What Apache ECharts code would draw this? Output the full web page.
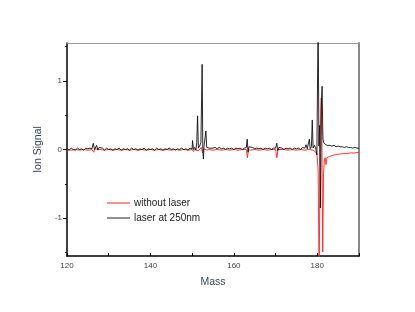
<!DOCTYPE html>
<html>
<head>
<meta charset="utf-8">
<script src="https://cdn.jsdelivr.net/npm/echarts@6/dist/echarts.min.js"></script>
<style>html,body{margin:0;padding:0;background:#fff}#c{width:415px;height:312px}</style>
</head>
<body>
<div id="c"></div>
<script>
const seriesNames = ['without laser', 'laser at 250nm'];
const xTickLabels = [120, 140, 160, 180];
const xMinorTicks = [130, 150, 170, 190];
const yTickLabels = [-1, 0, 1];
const yMinorTicks = [-1.5, -0.5, 0.5, 1.5];

// [mass, ion signal]
const laserData = [
 [120,0.01],[120.5,-0.01],[121,0.02],[121.5,0.00],[122,-0.01],[122.5,0.02],[123,0.00],[123.5,0.01],[124,-0.01],[124.5,0.02],
 [125,0.01],[125.5,0.02],[126,0.01],[126.3,0.09],[126.6,0.00],[126.9,0.02],[127.1,0.06],[127.4,-0.01],[127.7,0.03],[128,0.01],
 [128.5,0.02],[129,-0.01],[129.5,0.02],[130,0.00],[130.5,0.01],[131,-0.01],[131.5,0.01],[132,0.00],[132.5,0.02],[133,-0.01],
 [133.5,0.01],[134,0.00],[134.5,0.01],[135,-0.01],[135.5,0.02],[136,0.00],[136.5,0.01],[137,-0.01],[137.5,0.01],[138,0.00],
 [138.5,0.02],[139,-0.01],[139.5,0.01],[140,0.00],[140.5,0.01],[141,-0.01],[141.5,0.02],[142,0.00],[142.5,0.01],[143,-0.01],
 [143.5,0.01],[144,0.00],[144.5,0.02],[145,0.00],[145.5,0.01],[146,-0.01],[146.5,0.01],[147,0.00],[147.5,0.02],[148,0.00],
 [148.5,0.01],[149,-0.01],[149.5,0.02],[150,0.01],[150.1,0.13],[150.3,0.00],[150.6,0.03],[150.9,-0.01],[151.1,0.10],[151.3,0.49],
 [151.5,0.02],[151.8,0.05],[152.1,0.10],[152.4,1.24],[152.55,0.02],[152.7,-0.14],[152.85,0.05],[153.1,0.06],[153.3,0.27],[153.5,0.03],
 [153.8,0.05],[154.1,0.02],[154.5,0.04],[155,0.02],[155.5,0.03],[156,0.01],[156.5,0.03],[157,0.01],[157.5,0.02],[158,0.00],
 [158.5,0.02],[159,0.01],[159.5,0.02],[160,0.00],[160.5,0.02],[161,0.01],[161.5,0.02],[162,0.00],[162.5,0.02],[163,0.03],
 [163.2,0.15],[163.4,-0.04],[163.6,0.04],[164,0.02],[164.5,0.03],[165,0.01],[165.5,0.02],[166,0.01],[166.5,0.02],[167,0.00],
 [167.5,0.02],[168,0.01],[168.5,0.02],[169,0.00],[169.5,0.02],[170,0.02],[170.3,0.09],[170.5,-0.02],[170.8,0.03],[171,0.01],
 [171.5,0.02],[172,0.00],[172.5,0.02],[173,0.01],[173.5,0.02],[174,0.00],[174.5,0.02],[175,0.01],[175.5,0.02],[176,0.00],
 [176.5,0.03],[177,0.02],[177.3,0.07],[177.6,0.01],[178.1,0.15],[178.3,0.01],[178.6,0.04],[178.8,0.43],[179.0,0.02],[179.3,0.06],
 [179.6,0.03],[179.9,-0.08],[180.2,1.9],[180.4,0.05],[180.55,0.35],[180.75,-0.85],[180.95,0.6],[181.15,0.92],[181.35,0.15],[181.55,0.1],
 [181.75,0.12],[182,0.07],[182.5,0.06],[183,0.06],[183.5,0.05],[184,0.06],[184.5,0.04],[185,0.05],[185.5,0.04],[186,0.04],
 [186.5,0.03],[187,0.04],[187.5,0.03],[188,0.03],[188.5,0.02],[189,0.03],[189.5,0.02],[190,0.02]
];

const noLaserData = [
 [120,0.00],[121,-0.01],[122,0.00],[123,-0.01],[124,0.00],[125,-0.01],[126,0.00],[126.4,-0.04],[126.7,0.01],[127,-0.01],
 [128,0.00],[129,-0.01],[130,0.00],[131,-0.01],[132,0.00],[133,-0.01],[134,0.00],[135,-0.01],[136,0.00],[137,-0.01],
 [138,0.00],[139,-0.01],[140,0.00],[141,-0.01],[142,0.00],[143,-0.01],[144,0.00],[145,-0.01],[146,0.00],[147,-0.01],
 [148,0.00],[149,-0.01],[150,0.00],[150.3,-0.03],[150.6,0.00],[151.5,-0.02],[152.2,0.03],[152.5,-0.05],[152.8,0.01],[153.5,-0.01],
 [154,0.00],[155,-0.01],[156,0.00],[157,-0.01],[158,0.00],[159,-0.01],[160,0.00],[161,-0.01],[162,0.00],[163,0.00],
 [163.25,-0.12],[163.5,0.00],[164,-0.01],[165,0.00],[166,-0.01],[167,0.00],[168,-0.01],[169,0.00],[170,0.00],[170.3,-0.12],
 [170.6,0.00],[171,-0.01],[172,0.00],[173,-0.01],[174,0.00],[175,-0.01],[176,0.00],[177,-0.01],[178,0.00],[179,-0.01],
 [179.5,-0.03],[179.9,-0.06],[180.2,-0.3],[180.45,-1.9],[180.7,0.2],[180.95,0.75],[181.1,0.2],[181.3,-1.49],[181.5,-0.35],[181.7,-0.15],
 [181.9,-0.12],[182.1,-0.22],[182.3,-0.12],[182.6,-0.11],[183,-0.1],[183.5,-0.09],[184,-0.08],[185,-0.07],[186,-0.06],[187,-0.06],
 [188,-0.05],[189,-0.05],[190,-0.04]
];

const chart = echarts.init(document.getElementById('c'), null, {renderer: 'canvas'});
const font = 'Liberation Sans, Arial, sans-serif';
chart.setOption({
  animation: false,
  backgroundColor: '#fff',
  grid: {left: 67, right: 56, top: 43, bottom: 56, containLabel: false},
  legend: {
    data: seriesNames,
    orient: 'vertical',
    left: 102, top: 193,
    itemWidth: 23, itemHeight: 1, itemGap: 5,
    icon: 'rect',
    textStyle: {fontFamily: font, fontSize: 10, color: '#222', padding: [0,0,0,-1]}
  },
  xAxis: [{
    type: 'value', min: 120, max: 190, position: 'bottom',
    name: 'Mass', nameLocation: 'middle', nameGap: 21,
    nameTextStyle: {fontFamily: font, fontSize: 10.5, color: '#3a4656'},
    axisLine: {show: true, onZero: false, lineStyle: {color: '#000', width: 1.5}},
    axisTick: {show: true, inside: true, length: 3, lineStyle: {color: '#000'}, customValues: xTickLabels.concat(xMinorTicks)},
    axisLabel: {fontFamily: font, fontSize: 8, color: '#444', margin: 6, customValues: xTickLabels},
    splitLine: {show: false}
  }, {
    type: 'value', min: 120, max: 190, position: 'top',
    axisLine: {show: true, onZero: false, lineStyle: {color: '#999', width: 1}},
    axisTick: {show: false}, axisLabel: {show: false}, splitLine: {show: false}
  }],
  yAxis: [{
    type: 'value', min: -1.55, max: 1.55, position: 'left',
    name: 'Ion Signal', nameLocation: 'middle', nameGap: 19, nameRotate: 90,
    nameTextStyle: {fontFamily: font, fontSize: 10.5, color: '#3a4656'},
    axisLine: {show: true, onZero: false, lineStyle: {color: '#000', width: 1.5}},
    axisTick: {show: true, length: 4, lineStyle: {color: '#000'}, customValues: yTickLabels},
    axisLabel: {fontFamily: font, fontSize: 8, color: '#444', margin: 5, customValues: yTickLabels},
    splitLine: {show: false}
  }, {
    type: 'value', min: -1.55, max: 1.55, position: 'left',
    axisLine: {show: false, onZero: false},
    axisTick: {show: true, length: 2, lineStyle: {color: '#000'}, customValues: yMinorTicks},
    axisLabel: {show: false}, splitLine: {show: false}
  }, {
    type: 'value', min: -1.55, max: 1.55, position: 'right',
    axisLine: {show: true, onZero: false, lineStyle: {color: '#888', width: 2}},
    axisTick: {show: false}, axisLabel: {show: false}, splitLine: {show: false}
  }],
  series: [{
    name: seriesNames[0], type: 'line', data: noLaserData,
    showSymbol: false, clip: true, color: '#ff2020',
    lineStyle: {width: 0.9, color: '#ff2020'}, z: 2
  }, {
    name: seriesNames[1], type: 'line', data: laserData,
    showSymbol: false, clip: true, color: '#222',
    lineStyle: {width: 0.9, color: '#111'}, z: 3
  }]
});
</script>
</body>
</html>
